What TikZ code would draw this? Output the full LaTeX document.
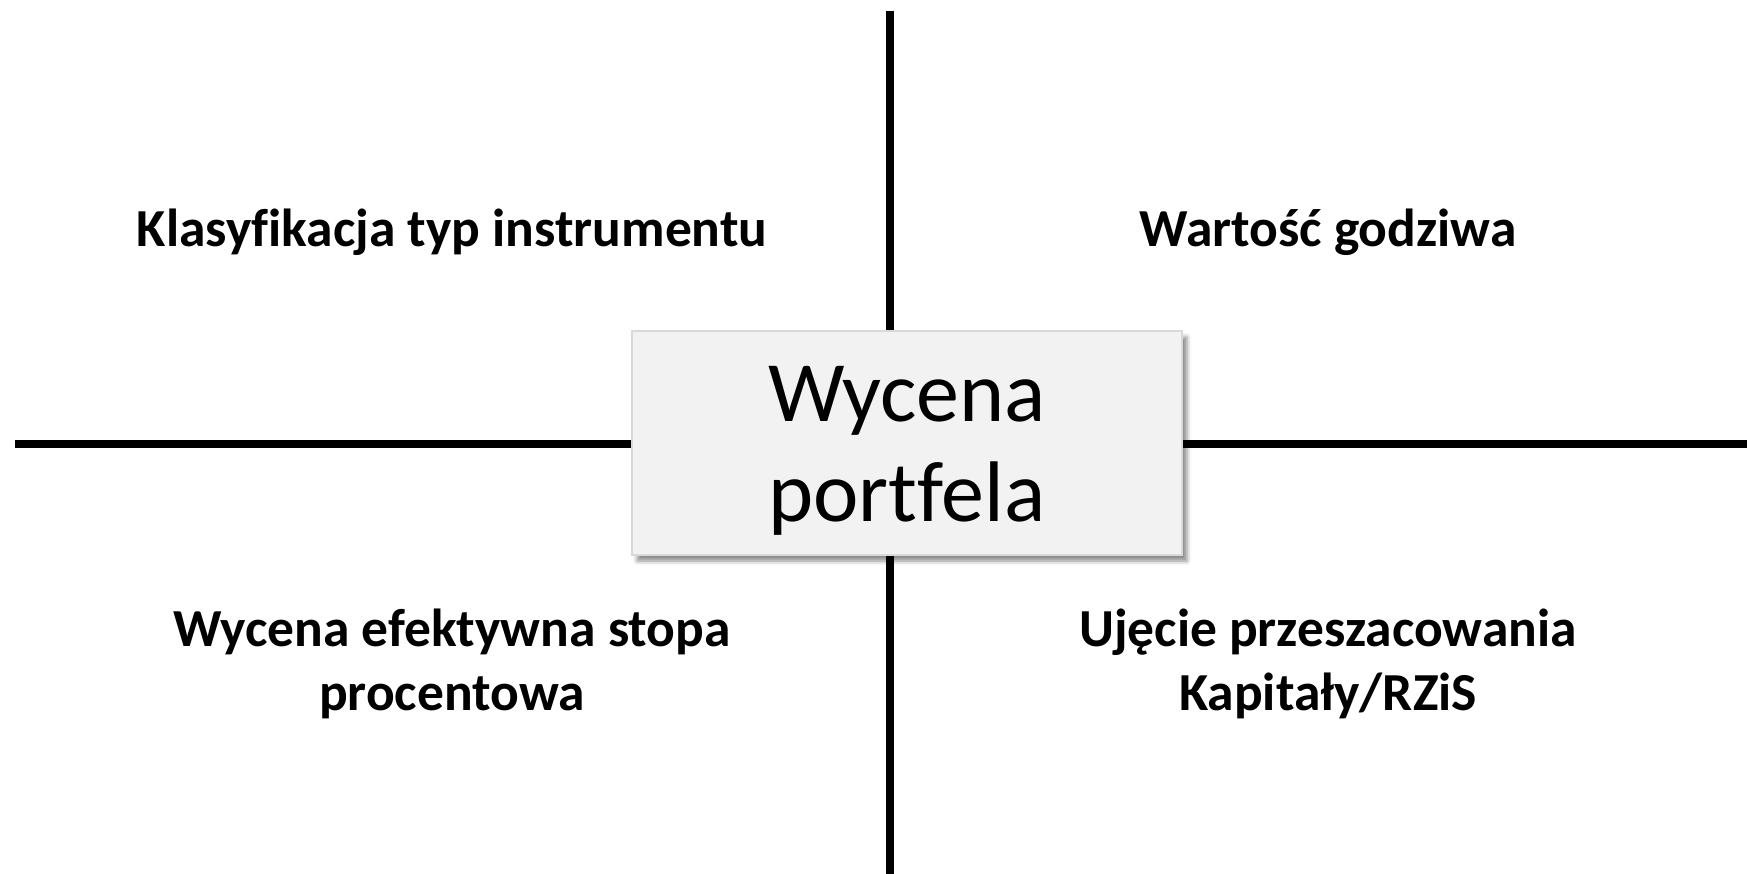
\documentclass[tikz,border=0pt]{standalone}
\usepackage{fontspec}
\setmainfont{Carlito}[Ligatures=CommonOff]
\usetikzlibrary{shadows,shadows.blur}
\begin{document}
\begin{tikzpicture}[x=1pt,y=-1pt,
  axis/.style={line width=8pt,black},
  centerbox/.style={draw=black!15,line width=2.5pt,fill=black!5,minimum width=550pt,minimum height=224pt,inner sep=0pt,
    blur shadow={shadow xshift=5pt,shadow yshift=-6pt,shadow blur radius=4pt,shadow opacity=45}},
  quad/.style={font=\fontsize{53.5}{64}\selectfont\bfseries,align=center,anchor=base,inner sep=0pt}]
\useasboundingbox (0,0) rectangle (1747,874);
\coordinate (top) at (890,11);
\coordinate (bot) at (890,874);
\coordinate (lft) at (15,444);
\coordinate (rgt) at (1747,444);
\draw[axis] (top) -- (bot);
\draw[axis] (lft) -- (rgt);
\node[centerbox] (c) at (907,443) {};
\node[font=\fontsize{86}{100}\selectfont,align=center,anchor=base,inner sep=0pt] (ct) at (907,521) {Wycena\\portfela};
\node[quad] (q1) at (452,247) {Klasyfikacja typ instrumentu};
\node[quad] (q2) at (1328,247) {Wartość godziwa};
\node[quad] (q3) at (452,710) {Wycena efektywna stopa\\procentowa};
\node[quad] (q4) at (1328,710) {Ujęcie przeszacowania\\Kapitały/RZiS};
\end{tikzpicture}
\end{document}
